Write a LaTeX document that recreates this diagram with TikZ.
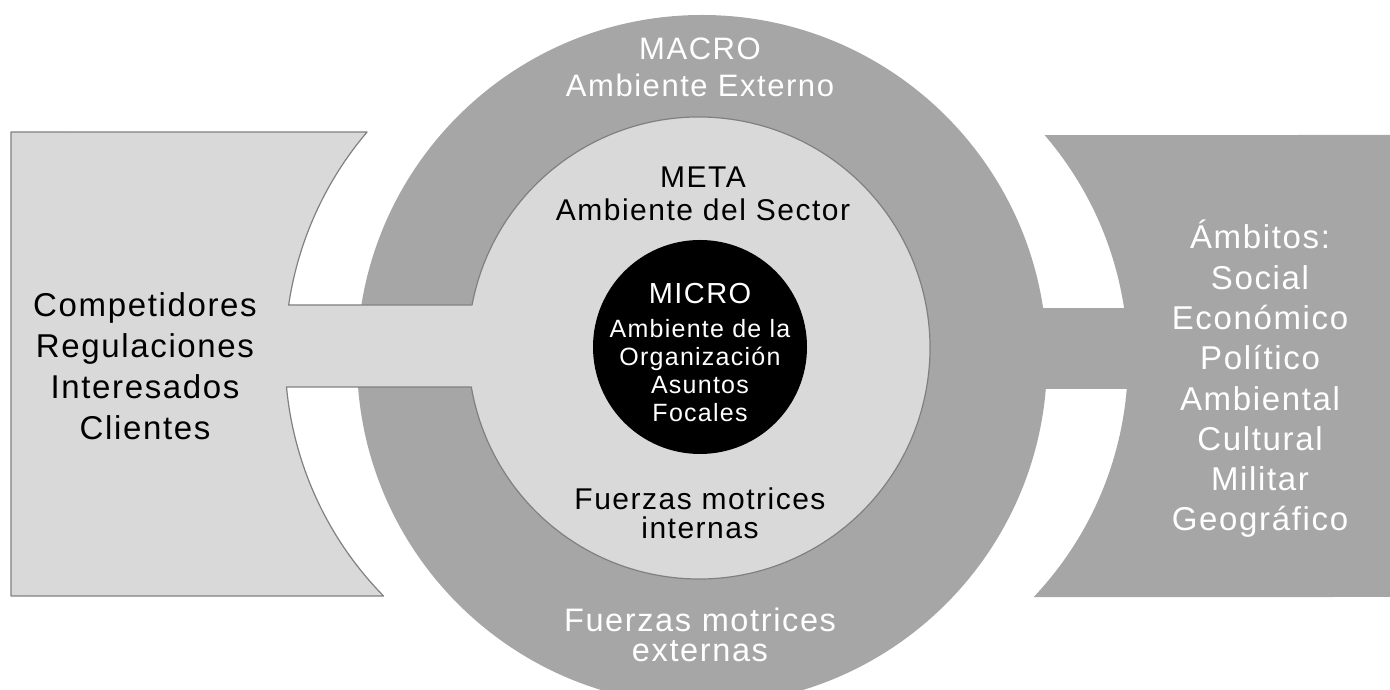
\documentclass[tikz,border=0pt]{standalone}
\usepackage{fontspec}
\setmainfont{Liberation Sans}[LetterSpace=5.0]
\definecolor{ringgray}{HTML}{A6A6A6}
\definecolor{panelgray}{HTML}{D9D9D9}
\definecolor{edgegray}{HTML}{808080}
\begin{document}
\begin{tikzpicture}[x=1pt,y=1pt,
    ring/.style={fill=ringgray},
    panel/.style={fill=panelgray,draw=edgegray,line width=1.2pt,line join=round},
    core/.style={circle,fill=black,minimum size=214pt,inner sep=0pt},
    bigtxt/.style={font=\fontsize{33}{41}\selectfont,align=center},
    midtxt/.style={font=\fontsize{30}{33}\selectfont,align=center}]
  \clip (0,0) rectangle (1390,690);
  \fill[ring] (702,330) circle[radius=345];
  \fill[ring] (1000,301) rectangle (1140,382);
  \fill[ring] (1390,555) -- (1390,93) -- ([shift={(783,330)}]-43.4:345)
    arc[start angle=-43.4, end angle=40.7, radius=345] -- cycle;
  \draw[panel] (11,94) -- (11,558) -- ([shift={(629,335)}]139.6:344)
    arc[start angle=139.6, end angle=171.64, radius=344]
    -- ([shift={(699,342)}]169.27:231)
    arc[start angle=169.27, end angle=-170.28, radius=231]
    -- ([shift={(629,335)}]185.34:344)
    arc[start angle=185.34, end angle=224.5, radius=344] -- cycle;
  \node[core] (micro) at (700,343) {};
  \node[text=white,align=center,font=\fontsize{25}{28}\selectfont] (microtxt) at (700,337)
    {{\fontsize{29}{34}\selectfont MICRO}\\[6pt]Ambiente de la\\Organización\\Asuntos\\Focales};
  \node[midtxt,text=white,font=\fontsize{31}{37}\selectfont] (macro) at (700,623) {MACRO\\Ambiente Externo};
  \node[midtxt] (meta) at (703,496) {META\\Ambiente del Sector};
  \node[midtxt,font=\fontsize{30}{29}\selectfont] (internas) at (700,177) {Fuerzas motrices\\internas};
  \node[midtxt,text=white,font=\fontsize{32.5}{30}\selectfont] (externas) at (700,55) {Fuerzas motrices\\externas};
  \node[bigtxt] (actores) at (145,324) {Competidores\\Regulaciones\\Interesados\\Clientes};
  \node[bigtxt,text=white,font=\fontsize{33}{40.3}\selectfont] (ambitos) at (1260,311)
    {Ámbitos:\\Social\\Económico\\Político\\Ambiental\\Cultural\\Militar\\Geográfico};
\end{tikzpicture}
\end{document}
